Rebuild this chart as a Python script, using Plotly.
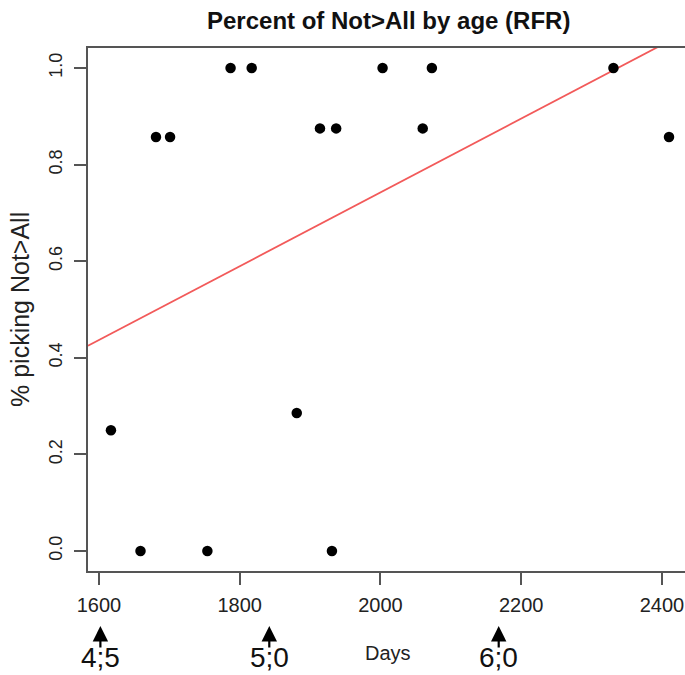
import plotly.graph_objects as go

# Age in days and proportion of Not>All choices per child
days = [1617, 1659, 1681, 1701, 1754, 1787, 1817, 1881, 1914, 1931, 1937,
        2003, 2060, 2073, 2331, 2410]
pct_not_all = [0.25, 0.0, 6/7, 6/7, 0.0, 1.0, 1.0, 2/7, 0.875, 0.0, 0.875,
               1.0, 0.875, 1.0, 1.0, 6/7]

# Linear fit (intercept, slope per day)
fit_intercept = -0.7855
fit_slope = 0.000764

x_ticks = [1600, 1800, 2000, 2200, 2400]
y_ticks = [0.0, 0.2, 0.4, 0.6, 0.8, 1.0]
y_tick_text = ["0.0", "0.2", "0.4", "0.6", "0.8", "1.0"]

# Age landmarks (years;months) and their positions in days
age_labels = ["4;5", "5;0", "6;0"]
age_days = [1602, 1842, 2168]

x_range = [1584.4, 2432.7]
y_range = [-0.0415, 1.0415]

W, H = 685, 675
M_L, M_R, M_T, M_B = 88, 0, 48, 104
plot_h = H - M_T - M_B
plot_w = W - M_L - M_R

def paper_y(px):
    """Convert a pixel row in the window to a paper y coordinate."""
    return (H - M_B - px) / plot_h

def paper_x(px):
    """Convert a pixel column in the window to a paper x coordinate."""
    return (px - M_L) / plot_w

fig = go.Figure()

fit_x = x_range
fit_y = [fit_intercept + fit_slope * v for v in fit_x]
fig.add_trace(go.Scatter(
    x=fit_x, y=fit_y, mode="lines",
    line=dict(color="#f25a5a", width=1.8),
    hoverinfo="skip", showlegend=False,
))

fig.add_trace(go.Scatter(
    x=days, y=pct_not_all, mode="markers",
    marker=dict(color="black", size=10.5, line=dict(width=0)),
    showlegend=False,
))

font_main = "Liberation Sans, Arial, Helvetica, sans-serif"

for lbl, d in zip(age_labels, age_days):
    # upward arrow
    fig.add_annotation(
        x=d, y=paper_y(626), xref="x", yref="paper",
        ax=0, ay=23, axref="pixel", ayref="pixel",
        text="", showarrow=True, arrowhead=2, arrowsize=1.4,
        arrowwidth=2.2, arrowcolor="black",
    )
    fig.add_annotation(
        x=d, y=paper_y(657), xref="x", yref="paper",
        text=lbl, showarrow=False, yanchor="middle", xanchor="center",
        font=dict(family=font_main, size=28, color="#111"),
    )

fig.add_annotation(
    x=paper_x(388), y=paper_y(653), xref="paper", yref="paper",
    text="Days", showarrow=False, xanchor="center", yanchor="middle",
    font=dict(family=font_main, size=20, color="#222"),
)

fig.add_annotation(
    x=paper_x(388), y=paper_y(20), xref="paper", yref="paper",
    text="<b>Percent of Not>All by age (RFR)</b>", showarrow=False,
    xanchor="center", yanchor="middle",
    font=dict(family=font_main, size=24, color="#111"),
)

fig.add_annotation(
    x=paper_x(20), y=paper_y(310), xref="paper", yref="paper",
    text="% picking Not>All", showarrow=False, textangle=-90,
    xanchor="center", yanchor="middle",
    font=dict(family=font_main, size=25, color="#222"),
)

fig.update_layout(
    width=W, height=H,
    margin=dict(l=M_L, r=M_R, t=M_T, b=M_B),
    paper_bgcolor="white", plot_bgcolor="white",
    xaxis=dict(
        range=x_range, tickvals=x_ticks, ticks="outside", ticklen=12,
        tickwidth=1.8, tickcolor="#555", showline=True, linecolor="#555",
        linewidth=1.8, mirror=True, showgrid=False, zeroline=False,
        ticklabelstandoff=3,
        tickfont=dict(family=font_main, size=20, color="#222"),
    ),
    yaxis=dict(
        range=y_range, tickvals=y_ticks, ticktext=y_tick_text,
        ticks="outside", ticklen=12, tickwidth=1.8, tickcolor="#555",
        showline=True, linecolor="#555", linewidth=1.8, mirror=False,
        showgrid=False, zeroline=False, tickangle=-90,
        ticklabelstandoff=5,
        tickfont=dict(family=font_main, size=18, color="#222"),
    ),
)

fig.write_html("out.html")
